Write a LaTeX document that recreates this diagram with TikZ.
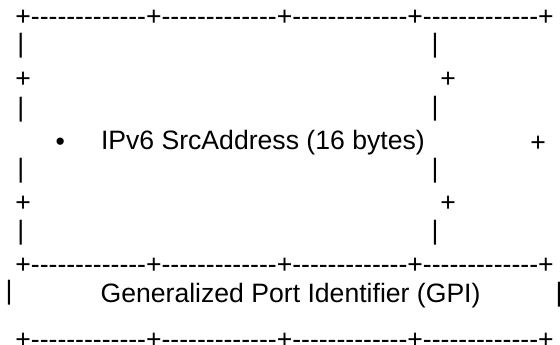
\documentclass[tikz,border=0pt]{standalone}
\usepackage{fontspec}
\newfontfamily\asciifont{Liberation Sans}
% guiones sueltos (sin ligadura)
\newcommand\dsh{-\kern0pt}
\newcommand\seg{+\dsh\dsh\dsh\dsh\dsh\dsh\dsh\dsh\dsh\dsh\dsh\dsh\dsh}
\newcommand\ruleline{\seg\seg\seg\seg+}
\begin{document}
\begin{tikzpicture}[x=1pt,y=-1pt,
  ascii/.style={font=\asciifont\fontsize{26.6}{32}\selectfont, inner sep=0pt, anchor=base west}]
\useasboundingbox (0,0) rectangle (560,345);
% Borde superior
\node[ascii] (TopRule) at (15.2,25.4) {\ruleline};
% Caja de la direccion
\node[ascii] (BarLeftA) at (17.2,52.4) {|};
\node[ascii] (BarRightA) at (431.5,52.4) {|};
\node[ascii] (PlusLeftA) at (15.2,87.4) {+};
\node[ascii] (PlusRightA) at (440.2,87.4) {+};
\node[ascii] (BarLeftB) at (17.2,116.2) {|};
\node[ascii] (BarRightB) at (431.5,115.8) {|};
\node[ascii] (Bullet) at (55.3,150.5) {•};
\node[ascii] (SrcAddr) at (100.8,149.5) {IPv6 SrcAddress (16 bytes)};
\node[ascii] (PlusFar) at (530.2,151.4) {+};
\node[ascii] (BarLeftC) at (17.2,177.4) {|};
\node[ascii] (BarRightC) at (431.5,177.4) {|};
\node[ascii] (PlusLeftB) at (15.2,211.4) {+};
\node[ascii] (PlusRightB) at (440.2,211.4) {+};
\node[ascii] (BarLeftD) at (17.2,239.4) {|};
\node[ascii] (BarRightD) at (431.5,239.4) {|};
% Fila del GPI
\node[ascii] (MidRule) at (15.2,273.4) {\ruleline};
\node[ascii] (BarGpiLeft) at (5.5,299.4) {|};
\node[ascii] (Gpi) at (100.4,302.5) {Generalized Port Identifier (GPI)};
\node[ascii] (BarGpiRight) at (555.5,301.4) {|};
% Borde inferior
\node[ascii] (BottomRule) at (15.2,348.4) {\ruleline};
\end{tikzpicture}
\end{document}
